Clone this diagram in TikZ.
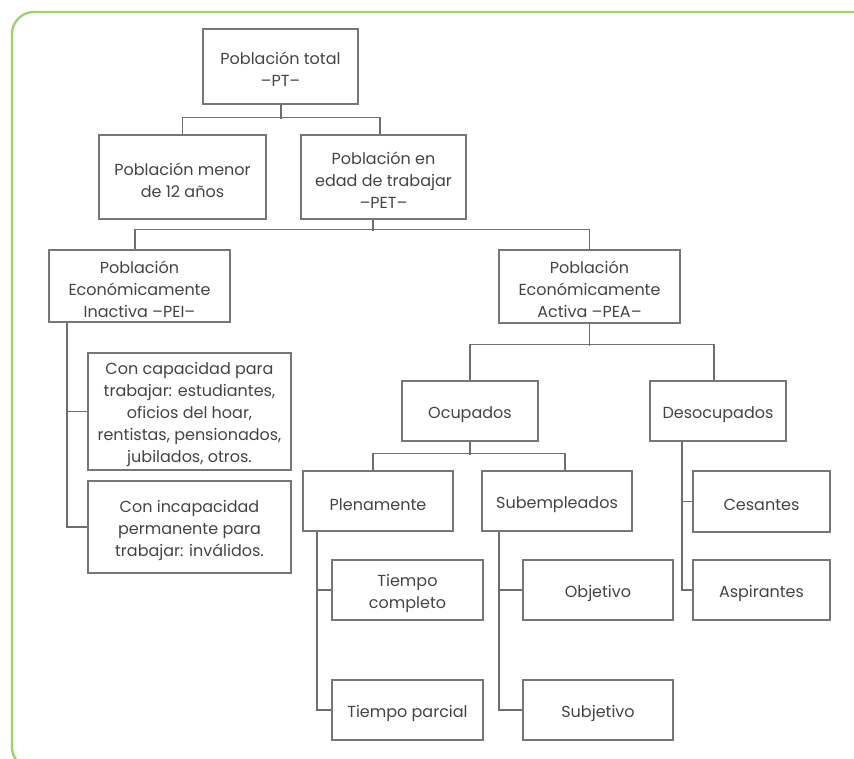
\documentclass[tikz,border=0pt]{standalone}
\usepackage{fontspec}
\setmainfont{Poppins}
\definecolor{boxgray}{HTML}{767676}
\definecolor{linegray}{HTML}{6E6E6E}
\definecolor{txtgray}{HTML}{444444}
\definecolor{framegreen}{HTML}{9CD46C}
\newcommand{\mytopstrut}{\rule{0pt}{18.5pt}}
\newcommand{\mybotstrut}{\rule[-1pt]{0pt}{1pt}}
\tikzset{
  box/.style={draw=boxgray, line width=1.2pt, fill=white, align=center, inner sep=0pt,
    text=txtgray, font=\fontsize{16}{22}\selectfont},
  onebox/.style={box, execute at begin node=\mytopstrut},
  conn/.style={draw=linegray, line width=1.1pt},
  frame/.style={draw=framegreen, line width=2.4pt}
}
\begin{document}
\begin{tikzpicture}[x=1pt,y=-1pt]
\useasboundingbox (0,0) rectangle (854,759);
\begin{scope}
\clip (0,0) rectangle (854,759);
\draw[frame, rounded corners=22pt] (12,12) rectangle (900,769);
\end{scope}

\node[box, minimum width=155, minimum height=75] (pt) at (280.5,66.5) {\mytopstrut Población total\\–PT–};
\node[box, minimum width=167, minimum height=84] (menor) at (182.5,177) {\mytopstrut Población menor\\de 12 años};
\node[box, minimum width=165, minimum height=84] (pet) at (383.5,177) {\mytopstrut Población en\\edad de trabajar\\–PET–};
\node[box, minimum width=181, minimum height=72] (pei) at (139.5,286) {\mytopstrut Población\\Económicamente\\Inactiva –PEI–};
\node[box, minimum width=181, minimum height=73] (pea) at (589.5,286.5) {\mytopstrut Población\\Económicamente\\Activa –PEA–};
\node[box, minimum width=203, minimum height=117] (cap) at (189.5,411.5) {\mytopstrut Con capacidad para\\trabajar: estudiantes,\\oficios del hoar,\\rentistas, pensionados,\\jubilados, otros.};
\node[box, minimum width=203, minimum height=92] (incap) at (189.5,527) {\mytopstrut Con incapacidad\\permanente para\\trabajar: inválidos.};
\node[onebox, minimum width=136, minimum height=60] (ocup) at (470,411) {Ocupados};
\node[onebox, minimum width=136, minimum height=60] (desoc) at (718,411) {Desocupados};
\node[onebox, minimum width=150, minimum height=60] (plen) at (378,501) {Plenamente};
\node[onebox, minimum width=150, minimum height=60] (subem) at (557,501) {Subempleados};
\node[onebox, minimum width=137, minimum height=61] (ces) at (761.5,501.5) {Cesantes};
\node[onebox, minimum width=137, minimum height=60] (asp) at (761.5,590) {Aspirantes};
\node[box, minimum width=151, minimum height=60] (tc) at (407.5,590) {\mytopstrut Tiempo\\completo};
\node[onebox, minimum width=151, minimum height=60] (tp) at (407.5,710) {Tiempo parcial};
\node[onebox, minimum width=150, minimum height=60] (obj) at (598,590) {Objetivo};
\node[onebox, minimum width=150, minimum height=60] (subj) at (598,710) {Subjetivo};

% PT
\draw[conn] ([xshift=0.5pt]pt.south) -- ++(0,14);
\draw[conn] (menor.north) -- ++(0,-17) -| ([xshift=-3.5pt]pet.north);
% PET
\draw[conn] ([xshift=-10.5pt]pet.south) -- ++(0,11);
\draw[conn] ([xshift=-4.5pt]pei.north) -- ++(0,-20) -| (pea.north);
% PEA
\draw[conn] (pea.south) -- ++(0,22);
\draw[conn] (ocup.north) -- ++(0,-36) -| ([xshift=-4pt]desoc.north);
% Ocupados
\draw[conn] (ocup.south) -- ++(0,13);
\draw[conn] ([xshift=-5pt]plen.north) -- ++(0,-17) -| ([xshift=8pt]subem.north);
% PEI
\draw[conn] ([xshift=-72.5pt]pei.south) |- (cap.west);
\draw[conn] ([xshift=-72.5pt]pei.south) |- (incap.west);
% Plenamente
\draw[conn] ([xshift=-61pt]plen.south) |- (tc.west);
\draw[conn] ([xshift=-61pt]plen.south) |- (tp.west);
% Subempleados
\draw[conn] ([xshift=-58pt]subem.south) |- (obj.west);
\draw[conn] ([xshift=-58pt]subem.south) |- (subj.west);
% Desocupados
\draw[conn] ([xshift=-36pt]desoc.south) |- (ces.west);
\draw[conn] ([xshift=-36pt]desoc.south) |- (asp.west);
\end{tikzpicture}
\end{document}
